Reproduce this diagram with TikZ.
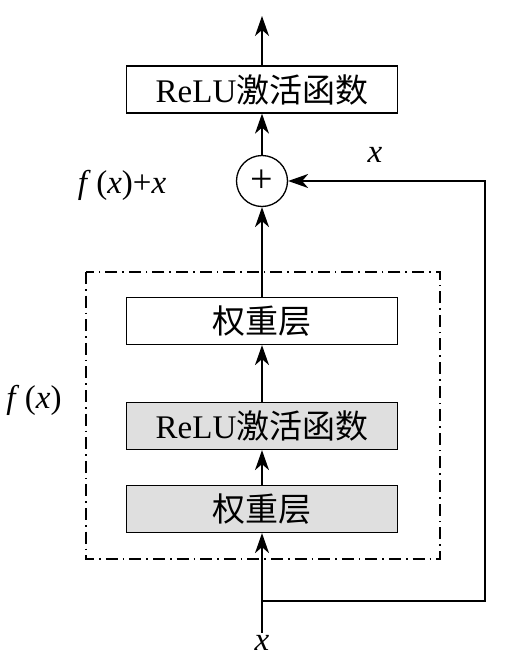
\documentclass[tikz,border=0pt]{standalone}
\usepackage{fontspec}
\setmainfont{Liberation Serif}
\newfontfamily\cjk{Noto Sans CJK SC}
\usetikzlibrary{arrows.meta}

\begin{document}
\begin{tikzpicture}[x=0.5pt,y=-0.5pt,line width=0.65pt,
  layer/.style={draw,minimum width=135.5pt,minimum height=23.5pt,inner sep=0pt,font=\fontsize{16.5}{18}\selectfont},
  shaded/.style={layer,fill=gray!25},
  lbl/.style={font=\fontsize{16.5}{18}\selectfont,inner sep=1pt},
  arr/.style={-{Stealth[length=10pt,width=7pt,inset=3pt]}},
  dashdot/.style={dash pattern=on 6pt off 2.5pt on 0.8pt off 2.5pt}]
\useasboundingbox (0,0) rectangle (507,664);
% blocks
\node[layer] (relutop) at (262,89.5) {ReLU{\cjk 激活函数}};
\node[draw,circle,minimum size=25.5pt,inner sep=0pt,font=\fontsize{20}{20}\selectfont] (add) at (262,181) {+};
\node[layer] (wtop) at (262,321) {\cjk 权重层};
\node[shaded] (relubot) at (262,426) {ReLU{\cjk 激活函数}};
\node[shaded] (wbot) at (262,509) {\cjk 权重层};
% labels
\node[lbl] (xin) at (262,643) {\textit{x}};
\node[lbl] (xskip) at (375,155) {\textit{x}};
\node[lbl] (fsum) at (122,185) {\textit{f}\,(\textit{x})+\textit{x}};
\node[lbl] (fx) at (34,400) {\textit{f}\,(\textit{x})};
\coordinate (split) at (262,601);
\coordinate (turn) at (485,601);
\coordinate (out) at (262,16);
% residual block frame
\draw[dashdot] (86,272) rectangle (440,559);
% connections
\draw[arr] (xin) -- (wbot);
\draw[arr] (wbot) -- (relubot);
\draw[arr] (relubot) -- (wtop);
\draw[arr] (wtop) -- (add);
\draw[arr] (add) -- (relutop);
\draw[arr] (relutop) -- (out);
\draw[arr] (split) -- (turn) |- (add);
\end{tikzpicture}
\end{document}
